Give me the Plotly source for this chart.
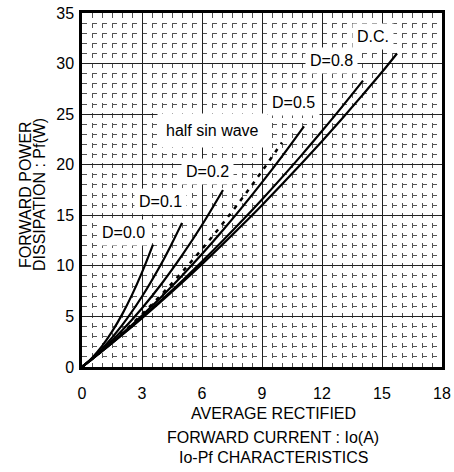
import plotly.graph_objects as go

# ---- data ----
x_ticks = [0, 3, 6, 9, 12, 15, 18]
y_ticks = [0, 5, 10, 15, 20, 25, 30, 35]

dc_x = [0, 1, 2, 3, 4, 5, 6, 7, 8, 9, 10, 11, 12, 13, 14, 15, 15.75]
dc_y = [0, 1.56, 3.17, 4.84, 6.56, 8.34, 10.17, 12.06, 14.01, 16.0, 18.06, 20.17, 22.33, 24.55, 26.83, 29.16, 31.0]

d08_x = [0, 1, 2, 3, 4, 5, 6, 7, 8, 9, 10, 11, 12, 13, 14.05]
d08_y = [0, 1.56, 3.20, 4.90, 6.67, 8.51, 10.42, 12.40, 14.45, 16.57, 18.75, 21.00, 23.33, 25.72, 28.31]

d05_x = [0, 1, 2, 3, 4, 5, 6, 7, 8, 9, 10, 11.1]
d05_y = [0, 1.59, 3.28, 5.09, 7.00, 9.03, 11.17, 13.42, 15.78, 18.25, 20.83, 23.80]

hsw_x = [0, 1, 2, 3, 4, 5, 6, 7, 8, 9, 10]
hsw_y = [0, 1.60, 3.34, 5.21, 7.22, 9.38, 11.66, 14.09, 16.66, 19.36, 22.2]

d02_x = [0, 0.5, 1, 2, 3, 4, 5, 6, 7.05]
d02_y = [0, 0.80, 1.67, 3.60, 5.81, 8.28, 11.03, 14.04, 17.50]

d01_x = [0, 0.5, 1, 2, 3, 4, 4.5, 5.0]
d01_y = [0, 0.83, 1.79, 4.12, 6.97, 10.34, 12.23, 14.25]

d00_x = [0, 0.5, 1, 1.5, 2, 2.5, 3, 3.55]
d00_y = [0, 0.90, 2.06, 3.49, 5.18, 7.13, 9.35, 12.10]

labels = ["D.C.", "D=0.8", "D=0.5", "half sin wave", "D=0.2", "D=0.1", "D=0.0"]
label_x = [14.55, 12.45, 10.55, 6.5, 6.25, 3.9, 2.05]
label_y = [32.7, 30.3, 26.2, 23.4, 19.3, 16.4, 13.25]

FONT = "Liberation Sans, Arial, sans-serif"

# plot area in page: x 82..442, y 13..367
PL, PT, PW, PH = 82, 13, 360, 354
W, H = 454, 472

fig = go.Figure()

solid = [(dc_x, dc_y), (d08_x, d08_y), (d05_x, d05_y), (d02_x, d02_y),
         (d01_x, d01_y), (d00_x, d00_y)]
for xs, ys in solid:
    fig.add_trace(go.Scatter(x=xs, y=ys, mode="lines",
                             line=dict(color="black", width=2.2, shape="spline"),
                             showlegend=False))
fig.add_trace(go.Scatter(x=hsw_x, y=hsw_y, mode="lines",
                         line=dict(color="black", width=2.5, dash="4px,6px", shape="spline"),
                         showlegend=False))

for t, lx, ly in zip(labels, label_x, label_y):
    fig.add_annotation(x=lx, y=ly, text=t, showarrow=False,
                       font=dict(family=FONT, size=16, color="black"),
                       bgcolor="white", borderpad=4 if t != "half sin wave" else 8)

# axis titles as annotations
for txt, ypx in [("AVERAGE RECTIFIED", 413), ("FORWARD CURRENT : Io(A)", 437),
                 ("Io-Pf CHARACTERISTICS", 458)]:
    fig.add_annotation(x=(273 - PL) / PW, y=(PT + PH - ypx) / PH, xref="paper", yref="paper",
                       text=txt, showarrow=False, xanchor="center", yanchor="middle",
                       font=dict(family=FONT, size=16, color="black"))
for txt, xpx in [("FORWARD POWER", 25), ("DISSIPATION : Pf(W)", 39)]:
    fig.add_annotation(x=(xpx - PL) / PW, y=(PT + PH - 195) / PH, xref="paper", yref="paper",
                       text=txt, showarrow=False, xanchor="center", yanchor="middle",
                       textangle=-90, font=dict(family=FONT, size=16, color="black"))

fig.update_layout(
    width=W, height=H,
    margin=dict(l=PL, r=W - PL - PW, t=PT, b=H - PT - PH),
    paper_bgcolor="white", plot_bgcolor="white",
    font=dict(family=FONT, size=16, color="black"),
    xaxis=dict(range=[0, 18], tickvals=x_ticks, showgrid=True, gridcolor="#222",
               gridwidth=1.2, zeroline=False, showline=True, linecolor="black",
               linewidth=2.5, mirror=True, ticks="outside", ticklen=10,
               tickcolor="rgba(0,0,0,0)", automargin=False, ticklabeloverflow="allow",
               minor=dict(dtick=0.5, showgrid=True, gridcolor="#555",
                          gridwidth=1, griddash="5px,5px")),
    yaxis=dict(range=[0, 35], tickvals=y_ticks, showgrid=True, gridcolor="#222",
               gridwidth=1.2, zeroline=False, showline=True, linecolor="black",
               linewidth=2.5, mirror=True, ticks="outside", ticklen=2,
               tickcolor="rgba(0,0,0,0)", automargin=False, ticklabeloverflow="allow",
               minor=dict(dtick=1, showgrid=True, gridcolor="#555",
                          gridwidth=1, griddash="5px,5px")),
)

fig.write_html("out.html", config={"displayModeBar": False},
               post_script="document.body.style.margin='0';document.body.style.overflow='hidden';")
